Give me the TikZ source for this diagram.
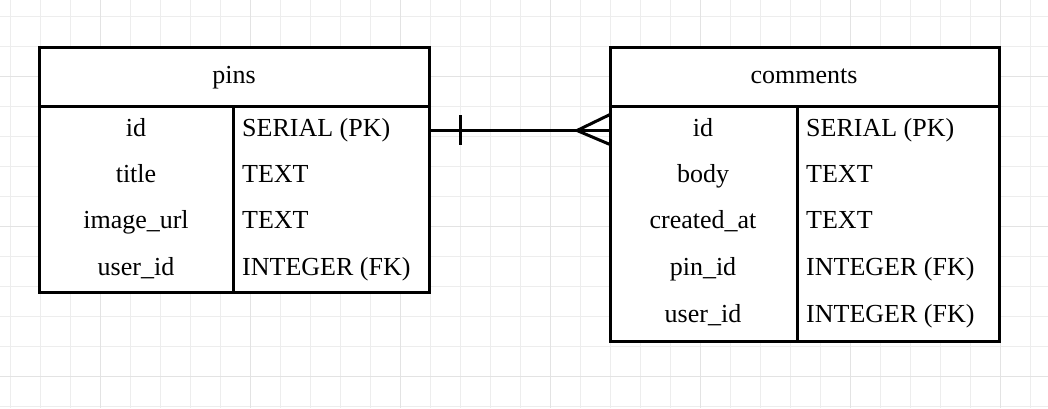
\documentclass[tikz,border=0pt]{standalone}
\usepackage{fontspec}
\setmainfont{Liberation Serif}
\usetikzlibrary{calc}
\begin{document}
\begin{tikzpicture}[x=1pt,y=-1pt,
  minorgrid/.style={draw=black!7,line width=1pt},
  majorgrid/.style={draw=black!11,line width=1pt},
  tbl/.style={draw=black,line width=3pt,line join=miter},
  fieldname/.style={anchor=base,inner sep=0pt,font=\fontsize{26}{30}\selectfont},
  fieldtype/.style={anchor=base west,inner sep=0pt,font=\fontsize{26}{30}\selectfont},
  conn/.style={draw=black,line width=3pt}
]
\useasboundingbox (0,0) rectangle (1048,408);
\fill[white] (0,0) rectangle (1048,408);
% grid
\foreach \gx in {10,40,...,1040} \draw[minorgrid] (\gx,0) -- (\gx,408);
\foreach \gy in {16,46,...,406} \draw[minorgrid] (0,\gy) -- (1048,\gy);
\foreach \gx in {100,250,...,1000} \draw[majorgrid] (\gx,0) -- (\gx,408);
\foreach \gy in {76,226,376} \draw[majorgrid] (0,\gy) -- (1048,\gy);

% pins table
\node[tbl,fill=white,anchor=north west,outer sep=0pt,minimum width=390pt,minimum height=245pt,inner sep=0pt] (pins) at (39,47) {};
\draw[tbl] (39,106.5) -- (429,106.5);
\draw[tbl] (233,106.5) -- (233,292);
\node[fieldname] (pinsT) at (234,83) {pins};
\node[fieldname] (p1n) at (136,136) {id};
\node[fieldtype] (p1t) at (242,136) {SERIAL (PK)};
\node[fieldname] (p2n) at (136,182) {title};
\node[fieldtype] (p2t) at (242,182) {TEXT};
\node[fieldname] (p3n) at (136,228.5) {image\_url};
\node[fieldtype] (p3t) at (242,228.5) {TEXT};
\node[fieldname] (p4n) at (136,275) {user\_id};
\node[fieldtype] (p4t) at (242,275) {INTEGER (FK)};

% comments table
\node[tbl,fill=white,anchor=north west,outer sep=0pt,minimum width=389pt,minimum height=294pt,inner sep=0pt] (comments) at (610,47) {};
\draw[tbl] (610,106.5) -- (999,106.5);
\draw[tbl] (797,106.5) -- (797,341);
\node[fieldname] (comT) at (804,83) {comments};
\node[fieldname] (c1n) at (703,136) {id};
\node[fieldtype] (c1t) at (806,136) {SERIAL (PK)};
\node[fieldname] (c2n) at (703,182) {body};
\node[fieldtype] (c2t) at (806,182) {TEXT};
\node[fieldname] (c3n) at (703,228.5) {created\_at};
\node[fieldtype] (c3t) at (806,228.5) {TEXT};
\node[fieldname] (c4n) at (703,275) {pin\_id};
\node[fieldtype] (c4t) at (806,275) {INTEGER (FK)};
\node[fieldname] (c5n) at (703,322) {user\_id};
\node[fieldtype] (c5t) at (806,322) {INTEGER (FK)};

% connector
\coordinate (ca) at (pins.east |- 0,130.5);
\coordinate (cb) at (comments.west |- 0,130.5);
\draw[conn] (ca) -- (cb);
\draw[conn] (460,115) -- (460,145);
\coordinate (fork) at (577,130.5);
\draw[conn,line join=miter] ($(cb)+(0,-16)$) -- (fork) -- ($(cb)+(0,14)$);
\end{tikzpicture}
\end{document}
